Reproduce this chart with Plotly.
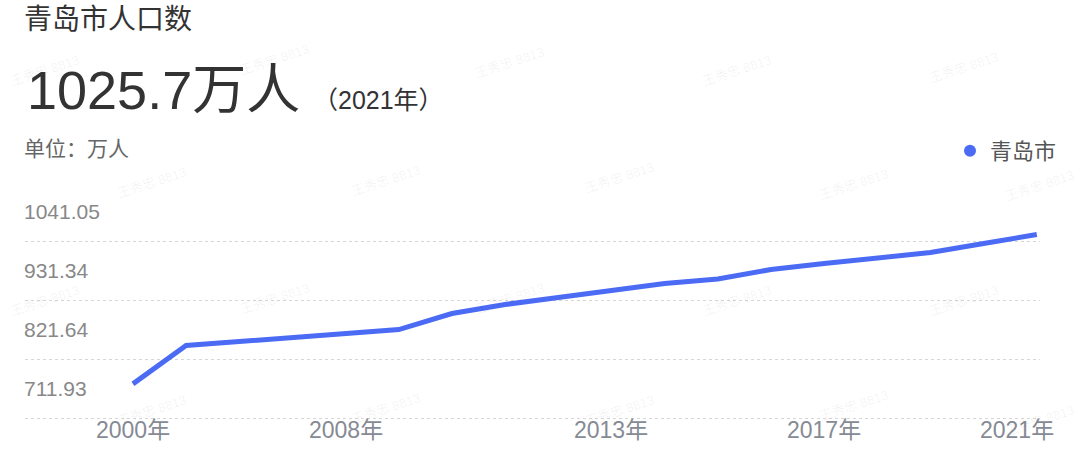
import plotly.graph_objects as go

# Qingdao population, 10k persons (万人)
years = ['2000', '2005', '2006', '2007', '2008', '2009', '2010', '2011', '2012',
         '2013', '2014', '2015', '2016', '2017', '2018', '2019', '2020', '2021']
population = [748.0, 819.3, 826.8, 834.2, 841.7, 849.1, 878.8, 895.6, 908.6,
              921.6, 934.6, 943.0, 960.6, 971.8, 983.0, 992.2, 1009.0, 1025.7]

xTickYears = ['2000', '2008', '2013', '2017', '2021']
yTickLabels = [711.93, 821.64, 931.34, 1041.05]

seriesName = '青岛市'
chartTitle = '青岛市人口数'
latestValue = '1025.7万人'
latestYear = '（2021年）'
unitText = '单位：万人'
watermarkText = '王秀忠 8813'

lineColor = '#4b6bf5'
darkText = '#333333'
grayText = '#888888'
fontFamily = 'Liberation Sans, Noto Sans CJK SC, sans-serif'

# the source draws its dotted grid a quarter step below each labelled value,
# with the label sitting halfway between two grid lines
tickStep = yTickLabels[1] - yTickLabels[0]
gridVals = [v - tickStep / 4 for v in yTickLabels]

# plot area in pixels (left, right, top, bottom) used to place paper annotations
plotL, plotR, plotT, plotB = 25, 1040, 200, 420


def paperX(px):
    return (px - plotL) / (plotR - plotL)


def paperY(py):
    return (plotB - py) / (plotB - plotT)


fig = go.Figure()
fig.add_trace(go.Scatter(x=years, y=population, mode='lines', name=seriesName,
                         line=dict(color=lineColor, width=5), showlegend=False,
                         hoverinfo='x+y'))
# legend entry drawn as a dot, like the source
fig.add_trace(go.Scatter(x=[None], y=[None], mode='markers', name=seriesName,
                         marker=dict(color=lineColor, size=10), showlegend=True))

annotations = [
    dict(text=chartTitle, x=paperX(22), y=paperY(19), xanchor='left', yanchor='middle',
         font=dict(size=28, color=darkText)),
    dict(text=latestValue, x=paperX(25), y=paperY(90), xanchor='left', yanchor='middle',
         font=dict(size=54, color=darkText)),
    dict(text=latestYear, x=paperX(311), y=paperY(100), xanchor='left', yanchor='middle',
         font=dict(size=25, color=darkText)),
    dict(text=unitText, x=paperX(22), y=paperY(149), xanchor='left', yanchor='middle',
         font=dict(size=21, color='#666666')),
]

# y labels, each midway between its grid line and the next one up
for v, g in zip(yTickLabels, gridVals):
    annotations.append(dict(text='%.2f' % v, x=0, xref='paper', y=g + tickStep / 2, yref='y',
                            xanchor='left', yanchor='middle', xshift=-3,
                            font=dict(size=21, color=grayText)))

# x labels below the category positions; the last one is pulled in to stay on the page
for yr in xTickYears:
    annotations.append(dict(text=yr + '年', x=years.index(yr), xref='x', y=0, yref='paper',
                            xanchor='center', yanchor='top', yshift=5,
                            xshift=-20 if yr == xTickYears[-1] else 0,
                            font=dict(size=23, color='#868a94')))

watermarkSpots = [(45, 70), (275, 60), (510, 63), (737, 70), (964, 67),
                  (152, 182), (386, 180), (620, 178), (854, 184), (1040, 186),
                  (45, 300), (275, 298), (510, 298), (737, 300), (964, 300),
                  (152, 410), (386, 408), (620, 410), (854, 405), (1040, 420)]
for wx, wy in watermarkSpots:
    annotations.append(dict(text=watermarkText, x=paperX(wx), y=paperY(wy), xanchor='center',
                            yanchor='middle', textangle=-18,
                            font=dict(size=13, color='rgba(0,0,0,0.06)')))

for a in annotations:
    a.setdefault('xref', 'paper')
    a.setdefault('yref', 'paper')
    a['showarrow'] = False

fig.update_layout(
    width=1080, height=462, autosize=False,
    margin=dict(l=plotL, r=1080 - plotR, t=plotT, b=462 - plotB, pad=0),
    paper_bgcolor='#ffffff', plot_bgcolor='#ffffff',
    font=dict(family=fontFamily, color=grayText),
    annotations=annotations,
    legend=dict(x=paperX(1062), y=paperY(151), xanchor='right', yanchor='middle',
                font=dict(size=22, color='#555555'), bgcolor='rgba(0,0,0,0)',
                itemsizing='constant'),
    xaxis=dict(type='category', categoryorder='array', categoryarray=years,
               range=[-2.03, 17.06], showgrid=False, zeroline=False, showline=False,
               showticklabels=False, ticks=''),
    yaxis=dict(range=[680.8, 1090], tickmode='array', tickvals=gridVals,
               showticklabels=False, showgrid=True, gridcolor='#d6d6d6', griddash='dot',
               gridwidth=1, zeroline=False, showline=False, ticks=''),
)

fig.write_html('out.html', config={'displayModeBar': False},
               post_script="document.body.style.margin='0';")
